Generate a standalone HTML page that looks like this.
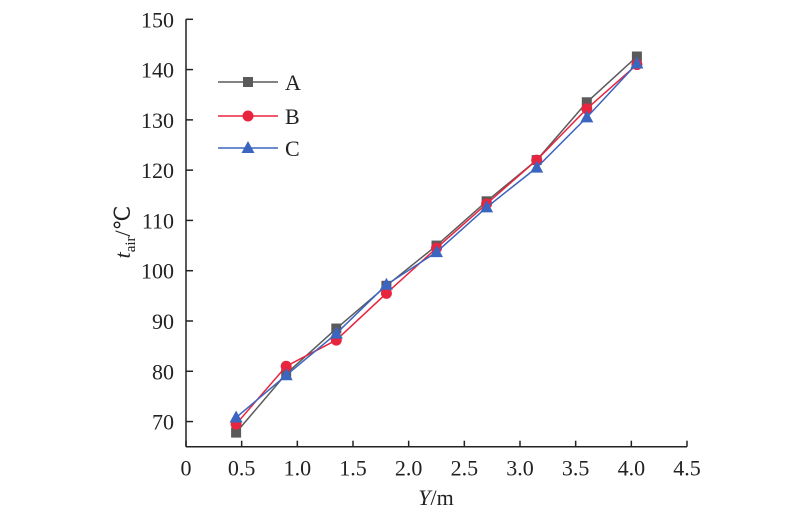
<!DOCTYPE html>
<html><head><meta charset="utf-8"><style>
body{margin:0;background:#fff}
svg{display:block;font-family:"Liberation Serif",serif}
</style></head><body>
<svg id="chart" width="800" height="520" viewBox="0 0 800 520">
<g id="axes"></g>
<g id="series"></g>
<g id="legend"></g>
</svg>
<script>
const xs = [0.45,0.9,1.35,1.8,2.25,2.7,3.15,3.6,4.05];
const seriesA = [67.8,79.5,88.5,97,105,113.8,122,133.5,142.6];
const seriesB = [69.5,81,86.2,95.5,104.5,113.3,122,132.2,141];
const seriesC = [70.8,79.2,87.5,97.2,103.7,112.6,120.5,130.5,141.2];
const xTicks = [0,0.5,1.0,1.5,2.0,2.5,3.0,3.5,4.0,4.5];
const xTickLabels = ["0","0.5","1.0","1.5","2.0","2.5","3.0","3.5","4.0","4.5"];
const yTicks = [70,80,90,100,110,120,130,140,150];

const NS="http://www.w3.org/2000/svg";
const X0=186,X1=687,Y0=446.7,YT=19.3;
const xS=v=>X0+(v-0)/4.5*(X1-X0);
const yS=v=>Y0-(v-65)/(150-65)*(Y0-YT);
function mk(tag,attrs,parent){const e=document.createElementNS(NS,tag);for(const k in attrs)e.setAttribute(k,attrs[k]);parent.appendChild(e);return e;}
const axes=document.getElementById('axes');
let l=mk('line',{x1:X0,y1:Y0,x2:X1,y2:Y0,stroke:'#222','stroke-width':1.5},axes);

l=mk('line',{x1:X0,y1:Y0,x2:X0,y2:YT,stroke:'#222','stroke-width':1.5},axes);

xTicks.forEach((v,i)=>{
 const t=mk('line',{x1:xS(v),y1:Y0,x2:xS(v),y2:Y0-6,stroke:'#222','stroke-width':1.5},axes);
 
 const tx=mk('text',{x:xS(v),y:Y0+29,'text-anchor':'middle','font-size':22,fill:'#222'},axes);
 tx.textContent=xTickLabels[i];
 
});
yTicks.forEach(v=>{
 const t=mk('line',{x1:X0,y1:yS(v),x2:X0+7,y2:yS(v),stroke:'#222','stroke-width':1.5},axes);
 
 const tx=mk('text',{x:X0-12,y:yS(v)+8,'text-anchor':'end','font-size':22,fill:'#222'},axes);
 tx.textContent=String(v);
 
});
let xt=mk('text',{x:436,y:505,'text-anchor':'middle','font-size':22,fill:'#222'},axes);
xt.innerHTML='<tspan font-style="italic">Y</tspan>/m';

let yt=mk('text',{x:0,y:0,'text-anchor':'middle','font-size':22,fill:'#222',transform:'translate(130,232) rotate(-90)'},axes);
yt.innerHTML='<tspan font-style="italic">t</tspan><tspan font-size="15" dy="5">air</tspan><tspan dy="-5">/℃</tspan>';


const ser=document.getElementById('series');
function marker(type,x,y,color,parent){
 let m;
 if(type==='sq') m=mk('rect',{x:x-5,y:y-5,width:10,height:10,fill:color},parent);
 else if(type==='ci') m=mk('circle',{cx:x,cy:y,r:5.5,fill:color},parent);
 else m=mk('polygon',{points:`${x},${y-7} ${x-6.5},${y+5} ${x+6.5},${y+5}`,fill:color},parent);
 return m;
}
function draw(vals,color,type,name){
 const g=mk('g',{},ser);
 
 const p=mk('polyline',{points:xs.map((x,i)=>xS(x)+','+yS(vals[i])).join(' '),fill:'none',stroke:color,'stroke-width':1.5},g);
 
 xs.forEach((x,i)=>{const m=marker(type,xS(x),yS(vals[i]),color,g);
  });
}
draw(seriesA,'#5a5a5a','sq','a');
draw(seriesB,'#e8253f','ci','b');
draw(seriesC,'#3a66c0','tr','c');

const leg=document.getElementById('legend');
[['A','#5a5a5a','sq',82],['B','#e8253f','ci',116],['C','#3a66c0','tr',148]].forEach(([n,c,t,y])=>{
 const g=mk('g',{},leg);
 
 mk('line',{x1:218,y1:y,x2:278,y2:y,stroke:c,'stroke-width':1.5},g);
 marker(t,248,y,c,g);
 const tx=mk('text',{x:285,y:y+8,'font-size':22,fill:'#222'},g);tx.textContent=n;
});
</script>
</body></html>
